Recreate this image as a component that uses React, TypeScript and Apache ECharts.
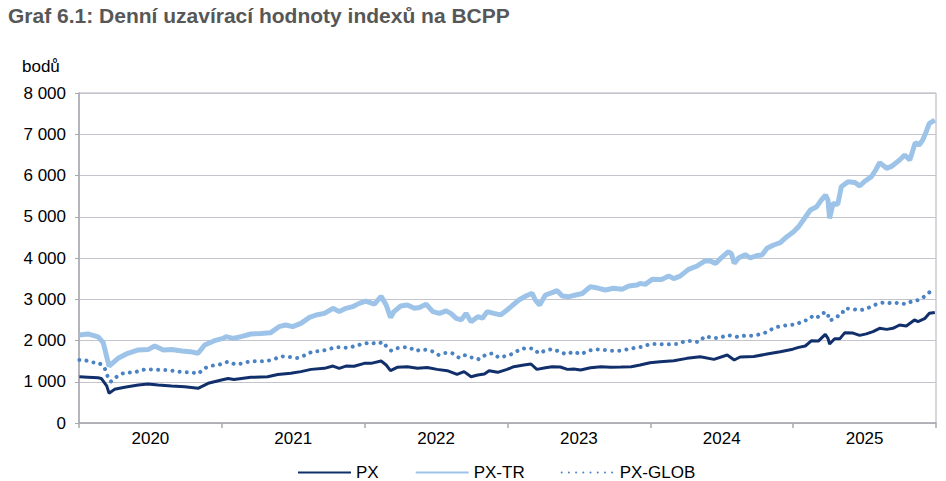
import React, { useEffect, useRef } from 'react';
import * as echarts from 'echarts';

const YEARS = ['2020', '2021', '2022', '2023', '2024', '2025'];

const PX: [string, number][] = [
    ['2020-01-02', 1120], ['2020-01-24', 1110], ['2020-02-19', 1095], ['2020-02-27', 1080], ['2020-03-12', 900],
    ['2020-03-18', 720], ['2020-04-01', 816], ['2020-04-27', 865], ['2020-06-01', 920], ['2020-06-26', 945],
    ['2020-07-22', 920], ['2020-08-25', 897], ['2020-09-28', 880], ['2020-11-01', 840], ['2020-11-27', 962],
    ['2020-12-31', 1042],
    ['2021-01-17', 1080], ['2021-02-01', 1055], ['2021-03-16', 1107], ['2021-04-28', 1120], ['2021-05-24', 1175],
    ['2021-06-26', 1204], ['2021-07-22', 1245], ['2021-08-17', 1300], ['2021-09-20', 1325], ['2021-10-12', 1380],
    ['2021-10-28', 1325], ['2021-11-14', 1380], ['2021-12-05', 1375], ['2021-12-31', 1446],
    ['2022-01-17', 1446], ['2022-02-12', 1503], ['2022-02-25', 1406], ['2022-03-08', 1268], ['2022-03-25', 1349],
    ['2022-04-20', 1365], ['2022-05-16', 1325], ['2022-06-10', 1345], ['2022-07-05', 1300], ['2022-07-31', 1268],
    ['2022-08-25', 1180], ['2022-09-12', 1245], ['2022-09-30', 1123], ['2022-10-17', 1163], ['2022-11-03', 1188],
    ['2022-11-15', 1268], ['2022-12-07', 1228], ['2022-12-31', 1300],
    ['2023-01-17', 1365], ['2023-02-12', 1406], ['2023-03-02', 1430], ['2023-03-17', 1300], ['2023-04-08', 1340],
    ['2023-04-25', 1365], ['2023-05-16', 1357], ['2023-06-03', 1300], ['2023-06-19', 1310], ['2023-07-07', 1285],
    ['2023-08-01', 1340], ['2023-08-28', 1365], ['2023-09-22', 1350], ['2023-10-18', 1355], ['2023-11-13', 1365],
    ['2023-12-06', 1406], ['2023-12-31', 1462],
    ['2024-01-26', 1487], ['2024-03-01', 1511], ['2024-04-04', 1567], ['2024-05-08', 1608], ['2024-06-12', 1543],
    ['2024-07-16', 1648], ['2024-08-03', 1527], ['2024-08-18', 1600], ['2024-09-22', 1610], ['2024-10-26', 1672],
    ['2024-11-29', 1729], ['2024-12-31', 1790],
    ['2025-01-15', 1834], ['2025-02-01', 1867], ['2025-02-17', 1996], ['2025-03-07', 1990], ['2025-03-24', 2150],
    ['2025-03-31', 2050], ['2025-04-04', 1915], ['2025-04-17', 2044], ['2025-04-30', 2040], ['2025-05-13', 2190],
    ['2025-06-03', 2180], ['2025-06-20', 2125], ['2025-07-07', 2160], ['2025-07-24', 2214], ['2025-08-10', 2295],
    ['2025-08-28', 2270], ['2025-09-13', 2295], ['2025-09-30', 2376], ['2025-10-17', 2350], ['2025-11-07', 2497],
    ['2025-11-16', 2460], ['2025-12-04', 2537], ['2025-12-15', 2659], ['2025-12-29', 2680],
];

const PX_TR: [string, number][] = [
    ['2020-01-02', 2133], ['2020-01-24', 2160], ['2020-02-19', 2090], ['2020-03-03', 1950], ['2020-03-18', 1380],
    ['2020-04-10', 1568], ['2020-05-05', 1690], ['2020-06-01', 1770], ['2020-06-26', 1780], ['2020-07-13', 1867],
    ['2020-08-04', 1770], ['2020-08-25', 1780], ['2020-09-21', 1745], ['2020-10-12', 1730], ['2020-11-01', 1690],
    ['2020-11-18', 1890], ['2020-12-13', 1995],
    ['2021-01-04', 2050], ['2021-01-12', 2093], ['2021-01-30', 2050], ['2021-02-19', 2093], ['2021-03-16', 2157],
    ['2021-04-10', 2170], ['2021-05-05', 2185], ['2021-05-27', 2335], ['2021-06-13', 2375], ['2021-07-01', 2335],
    ['2021-07-22', 2416], ['2021-08-13', 2561], ['2021-08-30', 2618], ['2021-09-20', 2658], ['2021-10-12', 2780],
    ['2021-10-28', 2700], ['2021-11-14', 2780], ['2021-12-01', 2820], ['2021-12-18', 2900],
    ['2022-01-04', 2955], ['2022-01-26', 2880], ['2022-02-12', 3070], ['2022-02-25', 2860], ['2022-03-08', 2561],
    ['2022-03-17', 2700], ['2022-04-03', 2836], ['2022-04-20', 2860], ['2022-05-08', 2780], ['2022-05-21', 2800],
    ['2022-06-07', 2880], ['2022-06-24', 2700], ['2022-07-11', 2658], ['2022-07-28', 2720], ['2022-08-10', 2650],
    ['2022-08-23', 2537], ['2022-09-05', 2500], ['2022-09-17', 2658], ['2022-09-30', 2455], ['2022-10-17', 2578],
    ['2022-10-29', 2540], ['2022-11-10', 2700], ['2022-11-27', 2658], ['2022-12-14', 2620], ['2022-12-31', 2740],
    ['2023-01-10', 2820], ['2023-01-30', 2982], ['2023-02-17', 3079], ['2023-03-05', 3144], ['2023-03-13', 2982],
    ['2023-03-24', 2860], ['2023-04-08', 3103], ['2023-04-25', 3160], ['2023-05-08', 3208], ['2023-05-21', 3079],
    ['2023-06-07', 3063], ['2023-06-24', 3103], ['2023-07-11', 3140], ['2023-08-01', 3305], ['2023-08-22', 3265],
    ['2023-09-08', 3225], ['2023-09-29', 3265], ['2023-10-21', 3240], ['2023-11-07', 3320], ['2023-11-28', 3345],
    ['2023-12-06', 3385], ['2023-12-19', 3360],
    ['2024-01-06', 3483], ['2024-01-30', 3480], ['2024-02-17', 3563], ['2024-03-01', 3500], ['2024-03-17', 3560],
    ['2024-04-08', 3725], ['2024-04-30', 3806], ['2024-05-21', 3935], ['2024-06-03', 3925], ['2024-06-16', 3870],
    ['2024-07-02', 4016], ['2024-07-19', 4153], ['2024-07-27', 4100], ['2024-08-03', 3870], ['2024-08-14', 4000],
    ['2024-08-31', 4080], ['2024-09-13', 4000], ['2024-09-30', 4060], ['2024-10-13', 4070], ['2024-10-26', 4234],
    ['2024-11-12', 4315], ['2024-11-29', 4372], ['2024-12-16', 4517],
    ['2025-01-02', 4638], ['2025-01-15', 4760], ['2025-01-27', 4921], ['2025-02-14', 5164], ['2025-03-02', 5244],
    ['2025-03-14', 5406], ['2025-03-25', 5527], ['2025-03-31', 5400], ['2025-04-04', 4962], ['2025-04-13', 5325],
    ['2025-04-25', 5300], ['2025-05-04', 5729], ['2025-05-21', 5850], ['2025-06-08', 5830], ['2025-06-20', 5745],
    ['2025-07-03', 5860], ['2025-07-20', 5972], ['2025-07-31', 6133], ['2025-08-10', 6311], ['2025-08-28', 6174],
    ['2025-09-09', 6220], ['2025-09-30', 6376], ['2025-10-13', 6497], ['2025-10-26', 6376], ['2025-11-09', 6795],
    ['2025-11-19', 6739], ['2025-11-28', 6860], ['2025-12-07', 7062], ['2025-12-15', 7265], ['2025-12-29', 7345],
];

const PX_GLOB: [string, number][] = [
    ['2020-01-02', 1530], ['2020-01-15', 1527], ['2020-02-03', 1470], ['2020-02-21', 1460], ['2020-03-06', 1350],
    ['2020-03-14', 1140], ['2020-03-22', 1000], ['2020-04-01', 1083], ['2020-04-15', 1180], ['2020-05-02', 1230],
    ['2020-05-19', 1215], ['2020-06-05', 1270], ['2020-06-18', 1300], ['2020-07-07', 1300], ['2020-07-26', 1285],
    ['2020-08-13', 1285], ['2020-09-02', 1260], ['2020-09-24', 1230], ['2020-10-16', 1230], ['2020-11-01', 1190],
    ['2020-11-18', 1330], ['2020-12-08', 1390], ['2020-12-27', 1420],
    ['2021-01-17', 1487], ['2021-02-04', 1422], ['2021-02-24', 1446], ['2021-03-14', 1495], ['2021-04-04', 1500],
    ['2021-04-25', 1500], ['2021-05-15', 1551], ['2021-06-03', 1616], ['2021-06-23', 1600], ['2021-07-13', 1576],
    ['2021-08-01', 1640], ['2021-08-21', 1737], ['2021-09-09', 1737], ['2021-09-29', 1786], ['2021-10-18', 1834],
    ['2021-11-04', 1834], ['2021-11-22', 1820], ['2021-12-09', 1875], ['2021-12-28', 1915],
    ['2022-01-15', 1955], ['2022-02-01', 1915], ['2022-02-17', 1964], ['2022-02-26', 1850], ['2022-03-10', 1753],
    ['2022-03-23', 1810], ['2022-04-08', 1834], ['2022-04-25', 1834], ['2022-05-11', 1745], ['2022-05-28', 1786],
    ['2022-06-15', 1760], ['2022-06-28', 1720], ['2022-07-09', 1648], ['2022-07-26', 1697], ['2022-08-12', 1697],
    ['2022-08-30', 1584], ['2022-09-13', 1648], ['2022-09-26', 1590], ['2022-10-09', 1590], ['2022-10-20', 1543],
    ['2022-11-05', 1648], ['2022-11-24', 1690], ['2022-12-10', 1584], ['2022-12-31', 1632],
    ['2023-01-17', 1687], ['2023-02-03', 1794], ['2023-02-20', 1818], ['2023-03-09', 1800], ['2023-03-22', 1687],
    ['2023-04-06', 1753], ['2023-04-25', 1794], ['2023-05-14', 1730], ['2023-05-31', 1665], ['2023-06-19', 1730],
    ['2023-07-08', 1665], ['2023-07-26', 1753], ['2023-08-16', 1786], ['2023-09-04', 1770], ['2023-09-24', 1753],
    ['2023-10-14', 1753], ['2023-11-04', 1786], ['2023-11-24', 1826], ['2023-12-13', 1850], ['2023-12-31', 1915],
    ['2024-01-24', 1915], ['2024-02-08', 1900], ['2024-02-26', 1915], ['2024-03-13', 1915], ['2024-03-30', 1988],
    ['2024-04-16', 1990], ['2024-05-03', 1960], ['2024-05-21', 2109], ['2024-06-09', 2060], ['2024-06-26', 2060],
    ['2024-07-16', 2133], ['2024-07-31', 2109], ['2024-08-13', 2085], ['2024-08-31', 2120], ['2024-09-18', 2115],
    ['2024-10-08', 2150], ['2024-10-27', 2206], ['2024-11-13', 2311], ['2024-12-03', 2352], ['2024-12-22', 2376],
    ['2025-01-10', 2390], ['2025-01-26', 2480], ['2025-02-06', 2490], ['2025-02-21', 2602], ['2025-03-04', 2560],
    ['2025-03-14', 2658], ['2025-03-29', 2683], ['2025-04-04', 2480], ['2025-04-09', 2500], ['2025-04-22', 2578],
    ['2025-05-04', 2618], ['2025-05-13', 2780], ['2025-06-03', 2760], ['2025-06-20', 2732], ['2025-07-05', 2760],
    ['2025-07-22', 2836], ['2025-08-07', 2900], ['2025-08-26', 2925], ['2025-09-11', 2900], ['2025-09-28', 2915],
    ['2025-10-15', 2880], ['2025-11-02', 2957], ['2025-11-18', 2980], ['2025-12-02', 3063], ['2025-12-15', 3168],
];

// date -> fractional year, so the x axis can have one tick per year
const toYear = (d: string) => {
    const [y, m, dd] = d.split('-').map(Number);
    const start = Date.UTC(y, 0, 1);
    const end = Date.UTC(y + 1, 0, 1);
    return y + (Date.UTC(y, m - 1, dd) - start) / (end - start);
};
const toPoints = (rows: [string, number][]) => rows.map(([d, v]) => [toYear(d), v]);

const FONT = 'Liberation Sans, Arial, sans-serif';
const fmt = (v: number) => String(v).replace(/\B(?=(\d{3})+(?!\d))/g, ' ');

const App: React.FC = () => {
    const chartRef = useRef<HTMLDivElement>(null);

    useEffect(() => {
        const chartDom = chartRef.current!;
        const myChart = echarts.init(chartDom, null, { renderer: 'svg' });

        const option: echarts.EChartsOption = {
            animation: false,
            title: {
                text: 'Graf 6.1: Denní uzavírací hodnoty indexů na BCPP',
                left: 8,
                top: 5,
                padding: 0,
                textStyle: { fontFamily: FONT, fontWeight: 'bold', fontSize: 21, color: '#575757' },
            },
            graphic: [
                {
                    type: 'text',
                    x: 22,
                    y: 58,
                    style: { text: 'bodů', font: '17px ' + FONT, fill: '#000' },
                },
            ],
            grid: {
                left: 79, right: 10, top: 93, bottom: 58,
                show: true, borderColor: '#b0b0b8', borderWidth: 1,
            },
            legend: {
                left: 292,
                top: 459,
                itemWidth: 53,
                itemHeight: 2,
                itemGap: 36,
                itemStyle: { opacity: 0 },
                textStyle: { fontFamily: FONT, fontSize: 17, color: '#000' },
                data: ['PX', 'PX-TR', 'PX-GLOB'],
            },
            xAxis: [
                {
                    type: 'value',
                    min: 2020,
                    max: 2026,
                    interval: 1,
                    axisLine: { show: true, lineStyle: { color: '#a8a8b0', width: 1.5 } },
                    axisTick: { show: true, length: 5, lineStyle: { color: '#a8a8b0', width: 1.5 } },
                    axisLabel: { show: false },
                    splitLine: { show: false },
                },
                {
                    type: 'category',
                    position: 'bottom',
                    data: YEARS,
                    boundaryGap: true,
                    axisLine: { show: false },
                    axisTick: { show: false },
                    axisLabel: { fontFamily: FONT, fontSize: 17, color: '#000', margin: 7 },
                    splitLine: { show: false },
                },
            ],
            yAxis: {
                type: 'value',
                min: 0,
                max: 8000,
                interval: 1000,
                axisLine: { show: true, lineStyle: { color: '#a8a8b0', width: 1.5 } },
                axisTick: { show: true, length: 4, lineStyle: { color: '#a8a8b0' } },
                axisLabel: { fontFamily: FONT, fontSize: 17, color: '#000', margin: 13, formatter: fmt },
                splitLine: { lineStyle: { color: '#c4c4cc', width: 1.2 } },
            },
            series: [
                {
                    name: 'PX',
                    type: 'line',
                    xAxisIndex: 0,
                    data: toPoints(PX),
                    showSymbol: false,
                    symbol: 'none',
                    color: '#11306b',
                    lineStyle: { width: 3, color: '#11306b' },
                    z: 3,
                },
                {
                    name: 'PX-TR',
                    type: 'line',
                    xAxisIndex: 0,
                    data: toPoints(PX_TR),
                    showSymbol: false,
                    symbol: 'none',
                    color: '#9dc4e8',
                    lineStyle: { width: 5, color: '#9dc4e8' },
                    z: 2,
                },
                {
                    name: 'PX-GLOB',
                    type: 'line',
                    xAxisIndex: 0,
                    data: toPoints(PX_GLOB),
                    showSymbol: false,
                    symbol: 'none',
                    color: '#4a82c3',
                    lineStyle: { width: 4, color: '#4a82c3', type: [0.01, 7.2], cap: 'round' },
                    z: 2,
                },
            ],
        };

        myChart.setOption(option);

        return () => {
            myChart.dispose();
        };
    }, []);

    return (
        <div
            ref={chartRef}
            style={{ position: 'fixed', left: 0, top: 0, width: 946, height: 481, background: '#fff' }}
        />
    );
};

export default App;
